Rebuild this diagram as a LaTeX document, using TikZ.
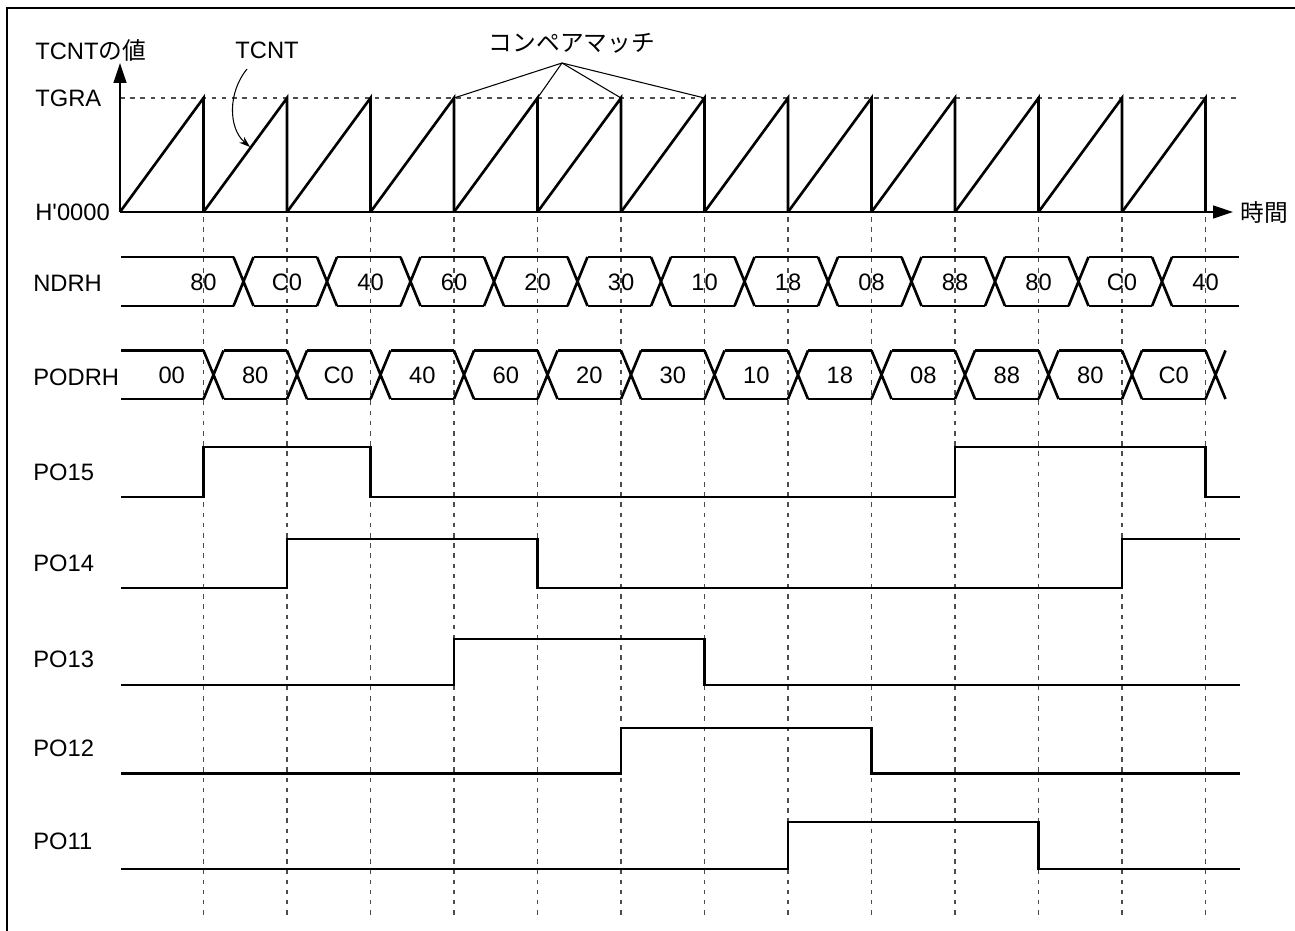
\documentclass[tikz,border=0pt]{standalone}
\usepackage{fontspec}
\setmainfont{Liberation Sans}
\newfontfamily\jpfont{Noto Sans CJK JP}
\usepackage{tikz}
\usetikzlibrary{calc}
\usetikzlibrary{arrows.meta}

\tikzset{
  wave/.style={line width=1.5pt},
  axisline/.style={line width=0.7pt},
  guide/.style={line width=0.6pt, black!70, dash pattern=on 2.6pt off 3.2pt},
  lbl/.style={anchor=west, inner sep=0pt, font=\fontsize{13.5}{16}\selectfont},
  val/.style={inner sep=0pt, font=\fontsize{13.5}{16}\selectfont},
}

\begin{document}
\begin{tikzpicture}[x=0.2mm,y=-0.2mm]
\useasboundingbox (0,0) rectangle (1295,931);
\draw[line width=1.5pt] (7,931) -- (7,8) -- (1295,8);

\coordinate (O) at (120,212);
\coordinate (Ytop) at (120,63);
\coordinate (Xend) at (1233,212);
  \draw[guide] (120,98) -- (1240,98);
  \draw[axisline,-{Triangle[length=4mm,width=2.6mm]}] (O) -- (Ytop);
  \draw[axisline,-{Triangle[length=4mm,width=2.6mm]}] (O) -- (Xend);

   % sawtooth of TCNT
   \foreach \i in {1,...,13}
     \draw[wave] (36.5+83.5*\i,212) -- (120+83.5*\i,98) coordinate (pk\i) -- (120+83.5*\i,212);

   \foreach \i in {1,...,13}
     \draw[guide] (120+83.5*\i,217) -- (120+83.5*\i,915);

   \node[lbl] (val) at (35,50) {TCNT{\jpfont の値}};
   \node[lbl] (tgra) at (35,98) {TGRA};
   \node[lbl] (zero) at (35,212) {H\textquotesingle 0000};
   \node[lbl] (time) at (1240,212) {\jpfont 時間};
   \node[val] (tcnt) at (267,50) {TCNT};
   \node[val] (cmp) at (572,43) {\jpfont コンペアマッチ};

\coordinate (cmpfoot) at (562,63);
   \foreach \i in {4,...,7}
     \draw[line width=0.6pt] (cmpfoot) -- (pk\i);

\coordinate (tcnta) at (247,69);
\coordinate (tcntb) at (250,147);
   \draw[line width=0.6pt,-{Stealth[length=2.2mm,width=1.5mm]}] (tcnta) .. controls (228,92) and (228,128) .. (tcntb);

   % NDRH
   \node[lbl] (ndrh) at (33,283) {NDRH};
   \draw[wave] (121,257) -- (233.5,257) (121,306) -- (233.5,306);
   \foreach \i in {1,...,12}
     \draw[wave] (150+83.5*\i,257) -- (170+83.5*\i,306) (150+83.5*\i,306) -- (170+83.5*\i,257);
   \foreach \i in {1,...,11}
     \draw[wave] (170+83.5*\i,257) -- (233.5+83.5*\i,257) (170+83.5*\i,306) -- (233.5+83.5*\i,306);
   \draw[wave] (1172,257) -- (1239,257) (1172,306) -- (1239,306);
   \foreach \v [count=\i] in {80,C0,40,60,20,30,10,18,08,88,80,C0,40}
     \node[val] (nd\i) at (120+83.5*\i,282) {\v};

   % PODRH
   \node[lbl] (podrh) at (33,377) {PODRH};
   \draw[wave] (121,350.5) -- (203.5,350.5) (121,399) -- (203.5,399);
   \foreach \i in {1,...,13}
     \draw[wave] (120+83.5*\i,350.5) -- (140+83.5*\i,399) (120+83.5*\i,399) -- (140+83.5*\i,350.5);
   \foreach \i in {1,...,12}
     \draw[wave] (140+83.5*\i,350.5) -- (203.5+83.5*\i,350.5) (140+83.5*\i,399) -- (203.5+83.5*\i,399);
   \foreach \v [count=\i from 0] in {00,80,C0,40,60,20,30,10,18,08,88,80,C0}
     \node[val] (pod\i) at (171.75+83.5*\i,375) {\v};

   % PO15 - PO11
   \node[lbl] (po15) at (33,472) {PO15};
   \node[lbl] (po14) at (33,563) {PO14};
   \node[lbl] (po13) at (33,659) {PO13};
   \node[lbl] (po12) at (33,748) {PO12};
   \node[lbl] (po11) at (33,841) {PO11};
   \draw[wave] (121,497) -- (203.5,497) -- (203.5,447) -- (370.5,447) -- (370.5,497) -- (955,497) -- (955,447) -- (1205.5,447) -- (1205.5,497) -- (1240,497);
   \draw[wave] (121,588) -- (287,588) -- (287,539) -- (537.5,539) -- (537.5,588) -- (1122,588) -- (1122,539) -- (1240,539);
   \draw[wave] (121,685) -- (454,685) -- (454,639) -- (704.5,639) -- (704.5,685) -- (1240,685);
   \draw[wave] (121,773.5) -- (621,773.5) -- (621,728) -- (871.5,728) -- (871.5,773.5) -- (1240,773.5);
   \draw[wave] (121,869) -- (788,869) -- (788,822) -- (1038.5,822) -- (1038.5,869) -- (1240,869);
   \end{tikzpicture}
\end{document}
